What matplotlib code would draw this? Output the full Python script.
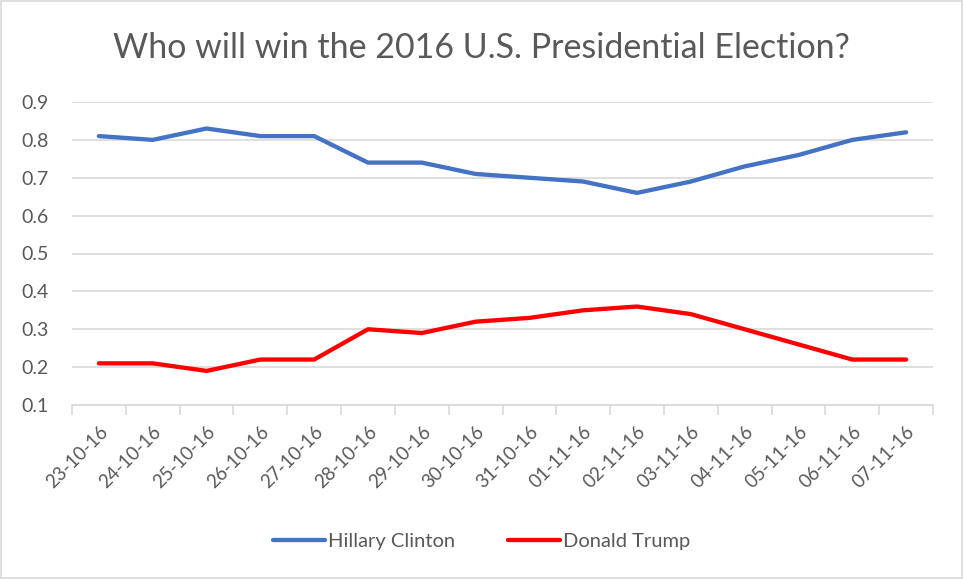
import matplotlib.pyplot as plt
from matplotlib.patches import Rectangle
import numpy as np

plt.rcParams['font.family'] = ['Lato', 'DejaVu Sans']

dates = ['23-10-16', '24-10-16', '25-10-16', '26-10-16', '27-10-16', '28-10-16',
         '29-10-16', '30-10-16', '31-10-16', '01-11-16', '02-11-16', '03-11-16',
         '04-11-16', '05-11-16', '06-11-16', '07-11-16']
clinton = [0.81, 0.80, 0.83, 0.81, 0.81, 0.74, 0.74, 0.71,
           0.70, 0.69, 0.66, 0.69, 0.73, 0.76, 0.80, 0.82]
trump = [0.21, 0.21, 0.19, 0.22, 0.22, 0.30, 0.29, 0.32,
         0.33, 0.35, 0.36, 0.34, 0.30, 0.26, 0.22, 0.22]
yticks = [0.1, 0.2, 0.3, 0.4, 0.5, 0.6, 0.7, 0.8, 0.9]

grey = '#595959'
grid = '#d9d9d9'

fig = plt.figure(figsize=(9.63, 5.79), dpi=100)
ax = fig.add_axes([72 / 963, 1 - 405 / 579, (933 - 72) / 963, (405 - 102) / 579])

x = np.arange(len(dates))
ax.plot(x, clinton, color='#4472C4', lw=3.1, solid_capstyle='round',
        solid_joinstyle='round', label='Hillary Clinton')
ax.plot(x, trump, color='#FF0000', lw=3.1, solid_capstyle='round',
        solid_joinstyle='round', label='Donald Trump')

ax.set_xlim(-0.5, len(dates) - 0.5)
ax.set_ylim(0.1, 0.9)
ax.set_yticks(yticks)
ax.set_yticklabels([f'{v:.1f}' for v in yticks])
ax.yaxis.grid(True, color=grid, lw=1.2)
ax.set_axisbelow(True)

# category ticks sit between the labels, Excel style
ax.set_xticks(np.arange(-0.5, len(dates), 1.0))
ax.set_xticklabels([])
ax.set_xticks(x, minor=True)
ax.set_xticklabels(dates, minor=True, rotation=45, ha='right',
                   rotation_mode='anchor', fontsize=13.5, color=grey)
ax.tick_params(axis='x', which='major', length=7, color=grid, width=1.2)
ax.tick_params(axis='x', which='minor', length=0, pad=13)
ax.tick_params(axis='y', length=0, pad=17, labelsize=14, labelcolor=grey)

for s in ['top', 'right', 'left']:
    ax.spines[s].set_visible(False)
ax.spines['bottom'].set_color(grid)
ax.spines['bottom'].set_linewidth(1.2)

fig.text(0.5, 1 - 48 / 579, 'Who will win the 2016 U.S. Presidential Election?',
         ha='center', va='center', fontsize=24.5, color=grey)

leg = fig.legend(loc='center', bbox_to_anchor=(0.5, 1 - 541 / 579), ncol=2,
                 frameon=False, fontsize=14.5, handlelength=2.6,
                 columnspacing=2.6, handletextpad=0.15)
for t in leg.get_texts():
    t.set_color(grey)

fig.patches.append(Rectangle((0.0015, 0.0015), 0.997, 0.997, transform=fig.transFigure,
                             fill=False, edgecolor=grid, lw=1.2))

fig.savefig('out.png', dpi=100)
